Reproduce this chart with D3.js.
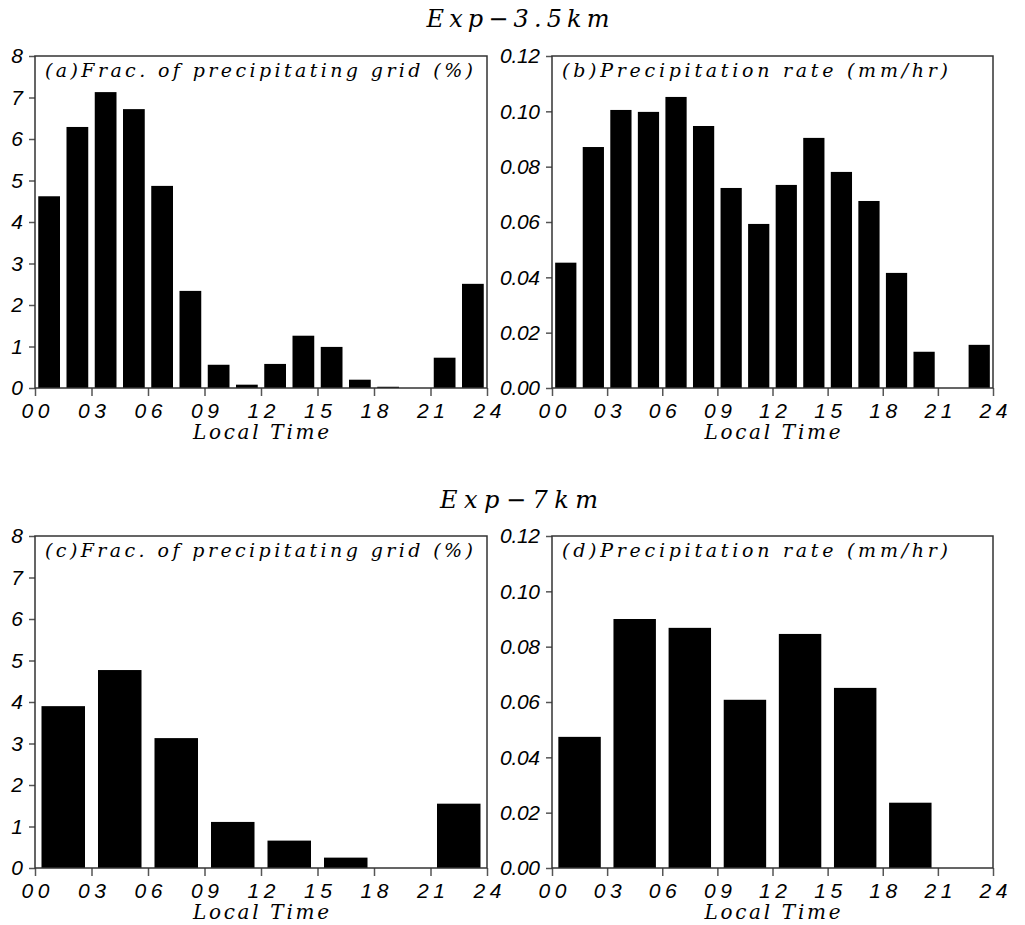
<!DOCTYPE html>
<html>
<head>
<meta charset="utf-8">
<script src="https://cdnjs.cloudflare.com/ajax/libs/d3/7.8.5/d3.min.js"></script>
<style>
  body { margin: 0; background: #fff; }
  .ttl { font-family: "DejaVu Serif", "Liberation Serif", serif; font-style: italic; }
  .tick text { font-family: "Liberation Sans", Arial, sans-serif; font-style: italic; fill: #000; }
</style>
</head>
<body>
<div id="chart"></div>
<script>
// chart values
var hourTicks = [0, 3, 6, 9, 12, 15, 18, 21, 24];
var fracTicks = [0, 1, 2, 3, 4, 5, 6, 7, 8];
var rateTicks = [0, 0.02, 0.04, 0.06, 0.08, 0.10, 0.12];

// Exp-3.5km, 1.5-hourly bins
var frac35 = [4.62, 6.29, 7.13, 6.72, 4.87, 2.34, 0.56, 0.08, 0.58, 1.26, 0.99, 0.2, 0.03, 0, 0.73, 2.51];
var rate35 = [0.0453, 0.0871, 0.1005, 0.0998, 0.1052, 0.0947, 0.0723, 0.0593, 0.0734, 0.0904, 0.0781, 0.0676, 0.0416, 0.0131, 0, 0.0156];

// Exp-7km, 3-hourly bins
var frac7 = [3.9, 4.77, 3.13, 1.11, 0.66, 0.25, 0, 1.55];
var rate7 = [0.0474, 0.090, 0.0868, 0.0608, 0.0846, 0.0651, 0.0236, 0];

var rowTitles = ["Exp\u22123.5km", "Exp\u22127km"];

var svgWidth = 1025;
var svgHeight = 925;

var svg = d3.select("#chart")
    .append("svg")
    .attr("width", svgWidth)
    .attr("height", svgHeight);

// panel boxes
var panels = [
    {x: 35, y: 56, w: 452, h: 332, values: frac35, ticks: fracTicks, fmt: d3.format("d"), label: "(a)Frac. of precipitating grid (%)", labLen: 428},
    {x: 552, y: 56, w: 441, h: 332, values: rate35, ticks: rateTicks, fmt: d3.format(".2f"), label: "(b)Precipitation rate (mm/hr)", labLen: 386},
    {x: 35, y: 536, w: 452, h: 332, values: frac7, ticks: fracTicks, fmt: d3.format("d"), label: "(c)Frac. of precipitating grid (%)", labLen: 428},
    {x: 552, y: 536, w: 441, h: 332, values: rate7, ticks: rateTicks, fmt: d3.format(".2f"), label: "(d)Precipitation rate (mm/hr)", labLen: 386}
];

// row titles
svg.append("text")
    .attr("class", "ttl")
    .attr("x", 518)
    .attr("y", 27)
    .attr("text-anchor", "middle")
    .attr("font-size", 24)
    .attr("textLength", 183)
    .text(rowTitles[0]);

svg.append("text")
    .attr("class", "ttl")
    .attr("x", 519)
    .attr("y", 508)
    .attr("text-anchor", "middle")
    .attr("font-size", 24)
    .attr("textLength", 158)
    .text(rowTitles[1]);

panels.forEach(function (p) {
    var g = svg.append("g")
        .attr("transform", `translate(${p.x}, ${p.y})`);

    var xScale = d3.scaleLinear().domain([0, 24]).range([0, p.w]);
    var yScale = d3.scaleLinear().domain([0, d3.max(p.ticks)]).range([p.h, 0]);

    // one band per time bin, bars 77% of the bin
    var band = d3.scaleBand()
        .domain(d3.range(p.values.length))
        .range([0, p.w])
        .paddingInner(0.23)
        .paddingOuter(0.115);

    g.selectAll("rect.bar")
        .data(p.values)
        .enter()
        .append("rect")
        .attr("class", "bar")
        .attr("x", (d, i) => band(i))
        .attr("width", band.bandwidth())
        .attr("y", d => yScale(d))
        .attr("height", d => p.h - yScale(d))
        .attr("fill", "#000");

    // x axis
    var xAxis = g.append("g")
        .attr("transform", `translate(0, ${p.h})`)
        .call(d3.axisBottom(xScale)
            .tickValues(hourTicks)
            .tickSize(8)
            .tickFormat(d3.format("02d")));
    xAxis.select(".domain").remove();
    xAxis.selectAll(".tick line").attr("stroke", "#555").attr("stroke-width", 1.5);
    xAxis.selectAll("text")
        .attr("y", 30)
        .attr("dy", 0)
        .attr("font-size", 21)
        .attr("textLength", 28);

    // y axis
    var yAxis = g.append("g")
        .call(d3.axisLeft(yScale)
            .tickValues(p.ticks)
            .tickSize(6)
            .tickFormat(p.fmt));
    yAxis.select(".domain").remove();
    yAxis.selectAll(".tick line").attr("stroke", "#555").attr("stroke-width", 1.5);
    yAxis.selectAll("text")
        .attr("x", -12)
        .attr("font-size", 21)
        .attr("textLength", d => p.fmt(d).length > 1 ? 40 : 11);

    // frame
    g.append("rect")
        .attr("width", p.w)
        .attr("height", p.h)
        .attr("fill", "none")
        .attr("stroke", "#333")
        .attr("stroke-width", 1.5);

    // panel label
    g.append("text")
        .attr("class", "ttl")
        .attr("x", 10)
        .attr("y", 21)
        .attr("font-size", 19)
        .attr("textLength", p.labLen)
        .text(p.label);

    // x axis title
    g.append("text")
        .attr("class", "ttl")
        .attr("x", p.w / 2)
        .attr("y", p.h + 51)
        .attr("text-anchor", "middle")
        .attr("font-size", 20)
        .attr("textLength", 136)
        .text("Local Time");
});
</script>
</body>
</html>
